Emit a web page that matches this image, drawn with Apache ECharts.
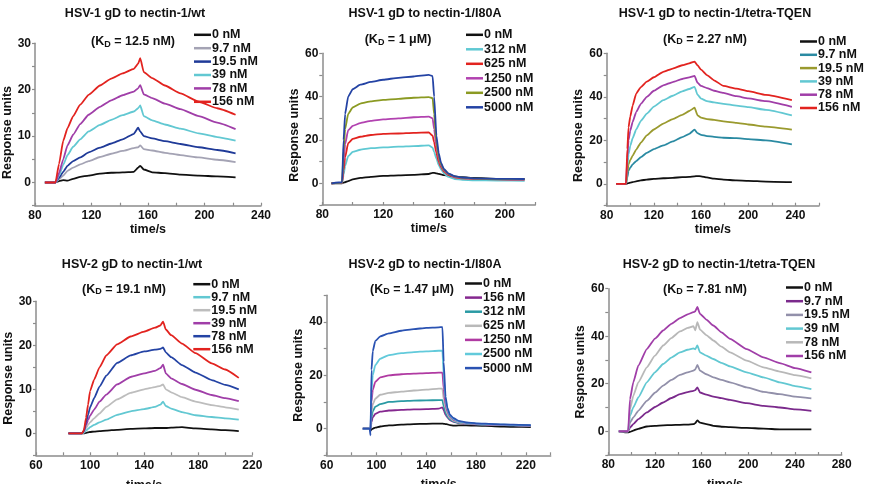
<!DOCTYPE html>
<html>
<head>
<meta charset="utf-8">
<script src="https://cdn.jsdelivr.net/npm/echarts@6/dist/echarts.min.js"></script>
<style>
html, body { margin: 0; padding: 0; background: #fff; }
#chart { width: 870px; height: 484px; }
</style>
</head>
<body>
<div id="chart"></div>
<script>
// ---- data (time in s, response units) ----
var concWT = ['0 nM', '9.7 nM', '19.5 nM', '39 nM', '78 nM', '156 nM'];
var concI80A1 = ['0 nM', '312 nM', '625 nM', '1250 nM', '2500 nM', '5000 nM'];
var concI80A2 = ['0 nM', '156 nM', '312 nM', '625 nM', '1250 nM', '2500 nM', '5000 nM'];

// HSV-1 gD to nectin-1/wt
var t_wt1 = [87, 94.5, 97, 100, 103, 107, 112, 118, 126, 134, 142, 150, 153, 154.5, 157, 163, 172, 183, 196, 209, 222];
var wt1_0 = [0, 0, 0.3, 0.5, 0.4, 0.8, 1.2, 1.5, 1.9, 2.1, 2.2, 2.3, 3.2, 3.6, 2.8, 2.2, 2, 1.7, 1.5, 1.3, 1.1];
var wt1_9_7 = [0, 0, 0.7, 1.5, 2.5, 3.2, 3.9, 4.6, 5.5, 6.2, 6.8, 7.4, 7.6, 8, 7.2, 6.9, 6.4, 5.9, 5.4, 4.9, 4.4];
var wt1_19_5 = [0, 0, 1, 2.3, 3.6, 4.6, 5.4, 6.5, 7.5, 8.4, 9.3, 10.5, 11.8, 11, 10, 9.5, 8.9, 8.3, 7.6, 7, 6.3];
var wt1_39 = [0, 0, 1.5, 3.8, 5.9, 7.7, 9.3, 11, 12.4, 13.5, 14.5, 15.3, 16, 16.6, 14.3, 13.4, 12.5, 11.6, 10.6, 9.8, 9];
var wt1_78 = [0, 0, 2, 5, 8, 10.3, 12.6, 14.6, 16.3, 17.7, 18.8, 19.6, 20.3, 21, 19, 18.2, 17, 15.8, 14.3, 12.9, 11.5];
var wt1_156 = [0, 0, 4, 9, 11.7, 14.3, 16.8, 18.9, 20.9, 22.4, 23.5, 24.5, 25.6, 26.8, 23.8, 22.5, 20.9, 19.2, 17.4, 16, 14.6];

// HSV-1 gD to nectin-1/I80A
var t_i80a1 = [86, 93, 94, 95, 97, 100, 105, 112, 120, 130, 140, 150, 152.5, 153.5, 155, 156.5, 158, 160, 163, 167, 172, 180, 195, 213];
var i80a1_0 = [0, 0, 0.3, 0.5, 1, 1.8, 2.5, 3, 3.4, 3.7, 3.9, 4.3, 4.8, 4.8, 4.6, 4.4, 4.1, 3.8, 3.5, 3.1, 2.8, 2.5, 2.1, 1.9];
var i80a1_312 = [0, 0.1, 4, 8, 12.5, 14.5, 15.5, 16.2, 16.6, 16.9, 17.2, 17.5, 16.5, 14.5, 11.5, 8.5, 6.5, 4.5, 3, 2, 1.6, 1.4, 1.3, 1.2];
var i80a1_625 = [0, 0.2, 6, 12, 18.5, 20.5, 21.5, 22.3, 22.8, 23, 23.3, 23.5, 22, 19, 14, 10, 7.5, 5.4, 3.8, 2.8, 2.3, 2, 1.8, 1.7];
var i80a1_1250 = [0, 0.2, 10, 18, 24.5, 26.5, 27.8, 28.8, 29.5, 30, 30.5, 30.8, 30, 25, 17, 11.5, 8.2, 5.9, 4.1, 3, 2.5, 2.1, 1.9, 1.8];
var i80a1_2500 = [0, 0.3, 15, 25, 32, 35, 36.8, 37.8, 38.5, 39, 39.5, 39.8, 39.3, 32, 19, 12.5, 8.8, 6.2, 4.3, 3.2, 2.6, 2.2, 2.0, 1.9];
var i80a1_5000 = [0, 0.5, 20, 32, 40, 43.5, 45.5, 46.8, 47.8, 48.7, 49.3, 50, 49.5, 40, 22, 14, 9.5, 6.5, 4.5, 3.3, 2.7, 2.3, 2.1, 2];

// HSV-1 gD to nectin-1/tetra-TQEN
var t_tq1 = [88, 96.4, 97.5, 98.5, 100, 102, 105, 109, 114, 120, 128, 136, 144, 150, 154.5, 157, 160, 165, 171, 179, 190, 200, 215, 237];
var tq1_0 = [0, 0, 0.2, 0.4, 0.6, 0.8, 1.2, 1.6, 2, 2.3, 2.6, 2.8, 3.1, 3.2, 3.5, 3.6, 3.5, 3, 2.4, 2, 1.6, 1.4, 1.1, 0.8];
var tq1_9_7 = [0, 0, 3, 6, 7.5, 9, 10.5, 12.3, 14.3, 16, 17.7, 19.5, 21.5, 23, 24.9, 23.3, 22.5, 22, 21.6, 21.2, 21, 20.6, 20, 18.2];
var tq1_19_5 = [0, 0, 5, 9, 11, 13, 15.8, 19, 22.3, 25, 27.7, 29.8, 31.7, 33.5, 35, 31.5, 30.5, 29.8, 29.4, 28.7, 28, 27.3, 26.3, 24.9];
var tq1_39 = [0, 0, 8, 13.5, 17.5, 21, 25, 29, 32.3, 35.5, 38.5, 40.5, 42.5, 43.6, 44.6, 41, 39.2, 38, 37.5, 36.8, 36, 35.3, 34, 31.5];
var tq1_78 = [0, 0, 12, 20, 24.5, 28.5, 33, 36.8, 40, 42.8, 45.3, 46.8, 48.2, 48.9, 49.6, 46.5, 45, 44, 42.8, 41.8, 40.3, 39.3, 38, 35.4];
var tq1_156 = [0, 0, 16, 26, 31, 36, 41.5, 44.5, 47, 49, 51.5, 53, 54.5, 55.4, 56.2, 54.5, 52.5, 50, 47.6, 45, 43.8, 42.6, 40.9, 38.5];

// HSV-2 gD to nectin-1/wt
var t_wt2 = [84, 94, 95.5, 97, 98.5, 100, 103, 107, 112, 120, 130, 140, 148, 152, 154, 156, 160, 168, 178, 190, 200, 210];
var wt2_0 = [0, 0, 0, 0.1, 0.2, 0.3, 0.4, 0.5, 0.6, 0.8, 1, 1.1, 1.2, 1.2, 1.2, 1.2, 1.3, 1.4, 1.1, 0.9, 0.7, 0.5];
var wt2_9_7 = [0, 0, 0.1, 0.6, 1, 1.4, 1.9, 2.5, 3.1, 4.2, 5, 5.5, 6, 6.5, 7.2, 6.2, 5.6, 4.8, 4.1, 3.7, 3.4, 3.1];
var wt2_19_5 = [0, 0, 0.3, 1.2, 1.9, 2.5, 3.4, 4.5, 6, 7.7, 9.2, 10, 10.5, 10.8, 11.1, 10, 9.3, 8.2, 7.2, 6.4, 5.9, 5.4];
var wt2_39 = [0, 0, 0.5, 1.8, 3, 4, 5.4, 7.2, 8.8, 11.1, 12.8, 13.6, 14.2, 14.8, 15.6, 13.6, 12.5, 11.2, 9.9, 8.7, 8, 7.3];
var wt2_78 = [0, 0, 0.5, 2.5, 4.2, 5.9, 8, 10.6, 13.1, 16, 17.7, 18.6, 19, 19.2, 19.5, 18.4, 17.3, 15.5, 13.8, 12.1, 11, 10];
var wt2_156 = [0, 0, 0.8, 3.5, 6.5, 9.6, 12.2, 15, 17.7, 20.2, 22, 23.1, 24, 24.5, 25.4, 23.6, 22.3, 20.4, 18.2, 15.9, 14.5, 12.6];

// HSV-2 gD to nectin-1/I80A
var t_i80a2 = [89, 94.5, 95.2, 96, 97, 99, 103, 110, 120, 130, 140, 150, 153, 154, 155.5, 157, 159, 162, 166, 172, 180, 195, 210, 224];
var i80a2_0 = [0, 0, -0.8, -0.3, 0, 0.4, 0.8, 1.2, 1.5, 1.7, 1.8, 1.9, 1.9, 1.8, 1.7, 1.6, 1.3, 1.1, 1.2, 1.2, 1.1, 0.9, 0.7, 0.6];
var i80a2_156 = [0, 0, 0, 2.5, 4.2, 5.5, 6.4, 6.8, 7, 7.2, 7.3, 7.5, 8, 7, 5.2, 4.2, 3.2, 2.5, 2.1, 1.8, 1.6, 1.4, 1.2, 1];
var i80a2_312 = [0, 0, 0, 4, 6.5, 8.2, 9.2, 10, 10.3, 10.5, 10.6, 10.7, 10.7, 8.5, 6, 4.6, 3.5, 2.7, 2.2, 1.9, 1.6, 1.4, 1.2, 1];
var i80a2_625 = [0, 0, 0, 6, 9, 11.2, 12.7, 13.4, 13.9, 14.3, 14.6, 15, 15, 11, 7.5, 5.5, 4, 3, 2.4, 2, 1.7, 1.5, 1.3, 1.1];
var i80a2_1250 = [0, 0, 0, 10, 14.5, 17.5, 19.2, 20, 20.4, 20.6, 20.8, 21, 21, 15, 9, 6.5, 4.5, 3.3, 2.6, 2.1, 1.8, 1.5, 1.3, 1.1];
var i80a2_2500 = [0, 0, 0, 14, 20, 23.8, 26.2, 27.6, 28.3, 28.7, 29, 29.2, 29.2, 20, 11, 7.2, 4.9, 3.6, 2.7, 2.2, 1.9, 1.6, 1.4, 1.2];
var i80a2_5000 = [0, 0, -2.5, 22, 29, 32.8, 34.6, 35.7, 36.7, 37.3, 37.8, 38, 38.1, 25, 12, 7.8, 5.2, 3.9, 2.9, 2.3, 2, 1.7, 1.5, 1.3];

// HSV-2 gD to nectin-1/tetra-TQEN
var t_tq2 = [89, 97, 98.6, 101.4, 105.7, 113, 120, 127, 134, 141.4, 148, 153, 154.5, 156.3, 158.6, 164, 170, 177, 184.3, 198.6, 213, 227, 240, 254];
var tq2_0 = [0, -0.5, -0.3, 0.3, 1, 2, 2.3, 2.5, 2.6, 2.7, 2.8, 3, 3.4, 4.6, 3.6, 3, 2.3, 1.9, 1.7, 1.4, 1.1, 0.8, 0.8, 0.8];
var tq2_9_7 = [0, 0, 1.5, 3, 5.1, 7.9, 10.2, 12.1, 14, 15.6, 16.5, 17, 17.3, 18.5, 16.3, 15.4, 14.6, 13.9, 13.2, 11.8, 10.7, 10, 9.2, 8.6];
var tq2_19_5 = [0, 0, 3.7, 5.8, 8.6, 12.8, 16.2, 19.2, 21.6, 23.7, 24.8, 25.5, 26, 27.9, 25.5, 24, 22.7, 21.6, 20.6, 18.5, 16.6, 15.6, 14.6, 13.8];
var tq2_39 = [0, 0, 6.5, 10, 14.2, 20.6, 24.8, 28.3, 31, 33.2, 34.3, 34.9, 34.5, 36.1, 33.2, 31.8, 30.4, 28.8, 27.3, 24.8, 22.7, 20.6, 19, 17.7];
var tq2_78 = [0, 0, 9.3, 14.9, 20.6, 26.9, 31.8, 36.1, 39.2, 42, 43.5, 44.2, 42.5, 45.9, 42.8, 40.5, 38.2, 35.6, 33.2, 29.7, 26.9, 25.1, 23.6, 22.3];
var tq2_156 = [0, 0, 13.5, 20.6, 27.6, 34.6, 39, 42.4, 45.2, 47.6, 49.2, 50.1, 50.5, 52.3, 49.4, 47, 44.5, 41.6, 38.9, 34.6, 31.1, 28.7, 26.6, 24.8];

// ---- layout ----
var FONT = '"Liberation Sans", Arial, sans-serif';
var AXIS_GRAY = '#8c8c8c';

var panels = [
  { title: 'HSV-1 gD to nectin-1/wt', tx: 135, ty: 14, kd: '(K{s|D} = 12.5 nM)', kx: 133, ky: 42,
    grid: [35, 43.3, 226, 162.4], x: [80, 240], y: [-5, 30, 5, 10], xGap: 16, yGap: 20, yShift: 16,
    leg: [194, 28.3, 0.4], t: t_wt1, names: concWT,
    vals: [wt1_0, wt1_9_7, wt1_19_5, wt1_39, wt1_78, wt1_156],
    colors: ['#111111', '#a4a3b4', '#1f3a98', '#62c8d2', '#a03ea8', '#e2231f'] },
  { title: 'HSV-1 gD to nectin-1/I80A', tx: 425, ty: 14, kd: '(K{s|D} = 1 μM)', kx: 398, ky: 40,
    grid: [322.3, 53.3, 213, 151.7], x: [80, 220], y: [-10, 60, 10, 20], xGap: 17, yGap: 16, yShift: 12,
    leg: [466, 28.3, 1.5], t: t_i80a1, names: concI80A1,
    vals: [i80a1_0, i80a1_312, i80a1_625, i80a1_1250, i80a1_2500, i80a1_5000],
    colors: ['#111111', '#5fc9d3', '#e2231f', '#b242b0', '#8b9a22', '#2443a4'] },
  { title: 'HSV-1 gD to nectin-1/tetra-TQEN', tx: 715, ty: 14, kd: '(K{s|D} = 2.27 nM)', kx: 705, ky: 39.5,
    grid: [606.7, 53.3, 212.3, 152.4], x: [80, 260], y: [-10, 60, 10, 20], xGap: 16, yGap: 18, yShift: 12,
    leg: [800, 35, 0.3], t: t_tq1, names: concWT,
    vals: [tq1_0, tq1_9_7, tq1_19_5, tq1_39, tq1_78, tq1_156],
    colors: ['#111111', '#2a8aa2', '#9a9a2e', '#62c8d2', '#a03ea8', '#e2231f'] },
  { title: 'HSV-2 gD to nectin-1/wt', tx: 132, ty: 265, kd: '(K{s|D} = 19.1 nM)', kx: 124, ky: 289.5,
    grid: [36, 301.3, 216.3, 154], x: [60, 220], y: [-5, 30, 5, 10], xGap: 24, yGap: 21, yShift: 0,
    leg: [193.3, 277.7, 0], t: t_wt2, names: concWT,
    vals: [wt2_0, wt2_9_7, wt2_19_5, wt2_39, wt2_78, wt2_156],
    colors: ['#111111', '#62c8d2', '#bdbdbd', '#a03ea8', '#2443a4', '#e2231f'] },
  { title: 'HSV-2 gD to nectin-1/I80A', tx: 425, ty: 265, kd: '(K{s|D} = 1.47 μM)', kx: 412, ky: 289.5,
    grid: [326.7, 295.3, 224, 160], x: [60, 240], y: [-10, 50, 10, 20], xGap: 23, yGap: 18.5, yShift: 0,
    leg: [465, 277, 1.1], t: t_i80a2, names: concI80A2,
    vals: [i80a2_0, i80a2_156, i80a2_312, i80a2_625, i80a2_1250, i80a2_2500, i80a2_5000],
    colors: ['#111111', '#85288f', '#2a9aa4', '#b9b9b9', '#b03aa2', '#62cadb', '#2a52b2'] },
  { title: 'HSV-2 gD to nectin-1/tetra-TQEN', tx: 719, ty: 265, kd: '(K{s|D} = 7.81 nM)', kx: 705, ky: 289.5,
    grid: [608.3, 288.7, 233.4, 166.3], x: [80, 280], y: [-10, 60, 10, 20], xGap: 23, yGap: 20, yShift: 0,
    leg: [786, 281, 0.7], t: t_tq2, names: concWT,
    vals: [tq2_0, tq2_9_7, tq2_19_5, tq2_39, tq2_78, tq2_156],
    colors: ['#111111', '#7b2a8c', '#9290aa', '#62c8d2', '#b8b8b8', '#a03ea8'] }
];

var grids = [], xAxes = [], yAxes = [], series = [], legends = [], graphics = [];

panels.forEach(function (p, i) {
  grids.push({ left: p.grid[0], top: p.grid[1], width: p.grid[2], height: p.grid[3],
    containLabel: false, outerBoundsMode: 'none' });

  var xmin = p.x[0];
  xAxes.push({
    gridIndex: i, type: 'value', min: p.x[0], max: p.x[1], interval: 20,
    name: 'time/s', nameLocation: 'middle', nameGap: p.xGap,
    nameTextStyle: { fontSize: 12.5, fontWeight: 'bold', color: '#111', fontFamily: FONT },
    axisLine: { show: true, onZero: false, lineStyle: { color: AXIS_GRAY, width: 1.5 } },
    axisTick: { show: true, inside: true, length: 3, lineStyle: { color: AXIS_GRAY, width: 1.2 } },
    axisLabel: { margin: 4, fontSize: 12, fontWeight: 'bold', color: '#111', fontFamily: FONT,
      formatter: function (v) { return (v - xmin) % 40 === 0 ? String(v) : ''; } },
    splitLine: { show: false }
  });

  var step = p.y[3];
  yAxes.push({
    gridIndex: i, type: 'value', min: p.y[0], max: p.y[1], interval: p.y[2],
    name: 'Response units', nameLocation: 'middle', nameGap: p.yGap,
    nameTextStyle: { fontSize: 12.5, fontWeight: 'bold', color: '#111', fontFamily: FONT,
      padding: [0, p.yShift, 0, 0] },
    axisLine: { show: true, onZero: false, lineStyle: { color: AXIS_GRAY, width: 1.5 } },
    axisTick: { show: true, length: 3, lineStyle: { color: AXIS_GRAY, width: 1.2 } },
    axisLabel: { margin: 4, fontSize: 12, fontWeight: 'bold', color: '#111', fontFamily: FONT,
      formatter: function (v) { return v % step === 0 ? String(v) : ''; } },
    splitLine: { show: false }
  });

  var legNames = [];
  p.names.forEach(function (n, k) {
    var sname = n + '#' + i;
    legNames.push(sname);
    series.push({
      type: 'line', name: sname, xAxisIndex: i, yAxisIndex: i,
      data: p.t.map(function (t, j) { return [t, p.vals[k][j]]; }),
      showSymbol: false, symbol: 'none', smooth: 0.15, smoothMonotone: 'x',
      lineStyle: { width: 1.8, color: p.colors[k] },
      itemStyle: { color: p.colors[k] },
      emphasis: { disabled: true }
    });
  });

  legends.push({
    orient: 'vertical', left: p.leg[0], top: p.leg[1], itemGap: p.leg[2], padding: 0,
    icon: 'rect', itemWidth: 17, itemHeight: 2.5, selectedMode: false,
    data: legNames,
    formatter: function (n) { return n.split('#')[0]; },
    textStyle: { fontSize: 12.5, fontWeight: 'bold', color: '#111', fontFamily: FONT, lineHeight: 10, padding: [0, 0, 0, -4] }
  });

  graphics.push({
    type: 'text', x: p.tx, y: p.ty,
    style: { text: p.title, fontSize: 12.5, fontWeight: 'bold', fontFamily: FONT, fill: '#111',
      align: 'center', verticalAlign: 'middle' }
  });
  graphics.push({
    type: 'text', x: p.kx, y: p.ky,
    style: { text: p.kd, fontSize: 12.5, fontWeight: 'bold', fontFamily: FONT, fill: '#111',
      align: 'center', verticalAlign: 'middle', lineHeight: 14,
      rich: { s: { fontSize: 9, fontWeight: 'bold', fontFamily: FONT, fill: '#111', lineHeight: 6, verticalAlign: 'bottom' } } }
  });
});

var myChart = echarts.init(document.getElementById('chart'));
myChart.setOption({
  backgroundColor: '#ffffff',
  animation: false,
  grid: grids,
  xAxis: xAxes,
  yAxis: yAxes,
  legend: legends,
  series: series,
  graphic: graphics
});
</script>
</body>
</html>
